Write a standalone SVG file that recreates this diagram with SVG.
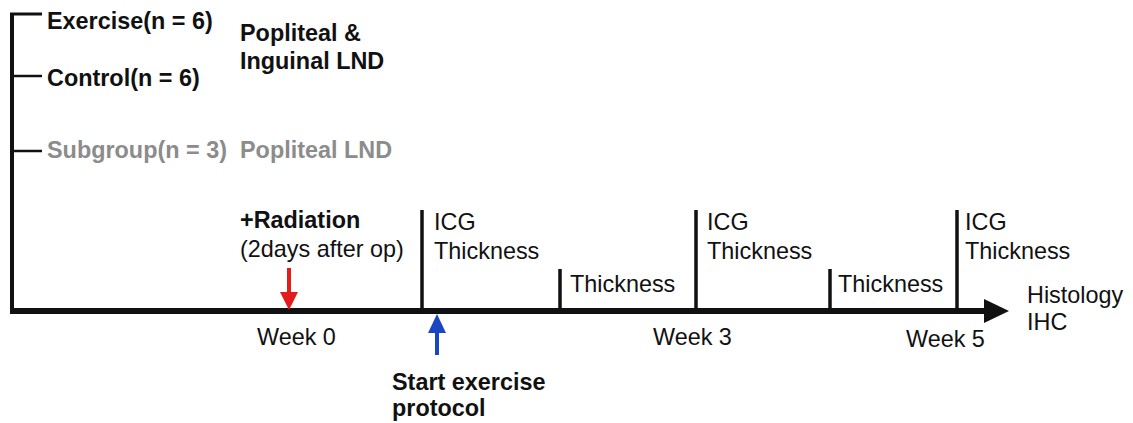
<svg xmlns="http://www.w3.org/2000/svg" width="1133" height="423" viewBox="0 0 1133 423">
<style>
text{font-family:"Liberation Sans",Arial,sans-serif;fill:#111;font-size:23.4px}
.b{font-weight:bold}
.g{fill:#8c8c8c}
.ln{stroke:#111;fill:none}
</style>
<rect width="1133" height="423" fill="#fff"/>
<g id="connectors">
<path class="ln" d="M12,14 V311" stroke-width="4"/>
<path class="ln" d="M10,14 H42" stroke-width="3"/>
<path class="ln" d="M12,76 H42" stroke-width="2.5"/>
<path class="ln" d="M12,151 H42" stroke-width="2.5"/>
<path class="ln" d="M10,311 H986" stroke-width="6"/>
<path d="M984,299 L1009,311 L984,323 Z" fill="#111"/>
<path class="ln" d="M422,210 V311" stroke-width="3.5"/>
<path class="ln" d="M560,269 V311" stroke-width="3.5"/>
<path class="ln" d="M696,210 V311" stroke-width="3.5"/>
<path class="ln" d="M830,269 V311" stroke-width="3.5"/>
<path class="ln" d="M957,210 V311" stroke-width="3.5"/>
<path d="M289,268 V295" stroke="#e31b1b" stroke-width="4"/>
<path d="M280,292 L289,310 L298,292 Z" fill="#e31b1b"/>
<path d="M437,355 V330" stroke="#1a46c2" stroke-width="4"/>
<path d="M428,333 L437,314 L446,333 Z" fill="#1a46c2"/>
</g>
<g id="groups">
<text class="b" x="47" y="29">Exercise(n = 6)</text>
<text class="b" x="47" y="86">Control(n = 6)</text>
<text class="b" x="240" y="41">Popliteal &amp;</text>
<text class="b" x="240" y="69">Inguinal LND</text>
<text class="b g" x="47" y="158">Subgroup(n = 3)</text>
<text class="b g" x="240" y="158">Popliteal LND</text>
</g>
<g id="radiation">
<text class="b" x="240" y="228">+Radiation</text>
<text x="240" y="257">(2days after op)</text>
</g>
<g id="week1">
<text x="434" y="230">ICG</text>
<text x="434" y="259">Thickness</text>
</g>
<g id="week2"><text x="570" y="292">Thickness</text></g>
<g id="week3">
<text x="707" y="230">ICG</text>
<text x="707" y="259">Thickness</text>
</g>
<g id="week4"><text x="838" y="292">Thickness</text></g>
<g id="week5">
<text x="965" y="230">ICG</text>
<text x="965" y="259">Thickness</text>
</g>
<g id="end">
<text x="1027" y="303">Histology</text>
<text x="1027" y="330">IHC</text>
</g>
<g id="labels">
<text x="257" y="345">Week 0</text>
<text x="653" y="345">Week 3</text>
<text x="906" y="347">Week 5</text>
</g>
<g id="start">
<text class="b" x="392" y="390">Start exercise</text>
<text class="b" x="392" y="416">protocol</text>
</g>
</svg>
